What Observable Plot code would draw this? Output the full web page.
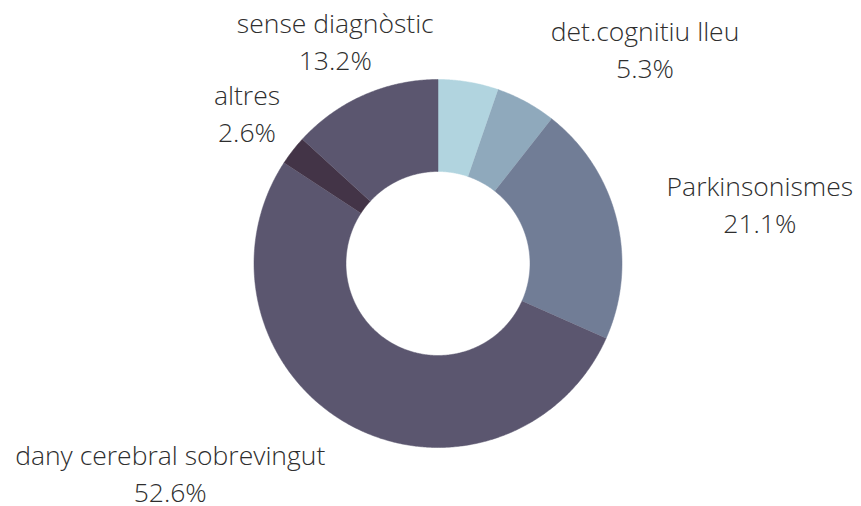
<!DOCTYPE html>
<html>
<head>
<meta charset="utf-8">
<script src="https://cdn.jsdelivr.net/npm/d3@7"></script>
<script src="https://cdn.jsdelivr.net/npm/@observablehq/plot@0.6"></script>
<style>
  html, body { margin: 0; padding: 0; background: #fff; }
  #chart { width: 861px; height: 506px; }
</style>
</head>
<body>
<div id="chart"></div>
<script>
// ---- data ----
const categories = ["", "det.cognitiu lleu", "Parkinsonismes", "dany cerebral sobrevingut", "altres", "sense diagnòstic"];
const values = [5.3, 5.3, 21.1, 52.6, 2.6, 13.2];
const colors = ["#b1d4df", "#8fa9bc", "#717d96", "#5b566f", "#433447", "#5b566f"];

// ---- layout ----
const W = 861, H = 506;
const cx = 437.5, cy = 263;      // centre in px
const R = 184;                   // px per unit (outer radius = 1)
const inner = 0.5;               // inner radius in units
const labelRx = 1.28, labelRy = 1.12; // label anchor radii in units
const fontSize = 26.5, lineH = 1.4;
const fontFamily = "'Open Sans', sans-serif";
// small manual label nudges in px (layout only), keyed by category
const labelNudge = {"altres": [28, 10]};

const pie = d3.pie().sort(null).value(d => d.value);
const rows = categories.map((c, i) => ({category: c, value: values[i]}));
const arcs = pie(rows);

// polygon points for each sector
const pts = [];
arcs.forEach(a => {
  const n = Math.max(4, Math.ceil((a.endAngle - a.startAngle) / (Math.PI / 360)));
  for (let j = 0; j <= n; j++) {
    const t = a.startAngle + (a.endAngle - a.startAngle) * j / n;
    pts.push({category: a.data.category, x: Math.sin(t), y: Math.cos(t)});
  }
  for (let j = n; j >= 0; j--) {
    const t = a.startAngle + (a.endAngle - a.startAngle) * j / n;
    pts.push({category: a.data.category, x: inner * Math.sin(t), y: inner * Math.cos(t)});
  }
});

// labels
const ctx = document.createElement("canvas").getContext("2d");
ctx.font = `300 ${fontSize}px ${fontFamily}`;
const labels = arcs.filter(a => a.data.category !== "").map(a => {
  const m = (a.startAngle + a.endAngle) / 2;
  const s = Math.sin(m), c = Math.cos(m);
  const l1 = a.data.category, l2 = a.data.value.toFixed(1) + "%";
  const w = Math.max(ctx.measureText(l1).width, ctx.measureText(l2).width);
  const h = 62;
  const sx = Math.abs(s) > 0.45 ? Math.sign(s) : s * 0.2;
  const sy = Math.abs(c) > 0.45 ? Math.sign(c) : c;
  const [nx, ny] = labelNudge[l1] || [0, 0];
  const px = labelRx * R * s + sx * w / 2 + nx;
  const py = labelRy * R * c + sy * h / 2 - ny;
  return {text: l1 + "\n" + l2, x: px / R, y: py / R};
});

const chart = Plot.plot({
  width: W,
  height: H,
  margin: 0,
  x: {domain: [-cx / R, (W - cx) / R], axis: null},
  y: {domain: [-(H - cy) / R, cy / R], axis: null},
  color: {domain: categories, range: colors},
  style: {background: "#fff", fontFamily},
  marks: [
    Plot.line(pts, {x: "x", y: "y", z: "category", fill: "category", stroke: "category", strokeWidth: 0.5}),
    Plot.text(labels, {x: "x", y: "y", text: "text", textAnchor: "middle", lineAnchor: "middle",
      lineHeight: lineH, fontSize, fontWeight: 300, fill: "#2e2e2e", dy: -4})
  ]
});
document.getElementById("chart").appendChild(chart);
</script>
</body>
</html>
